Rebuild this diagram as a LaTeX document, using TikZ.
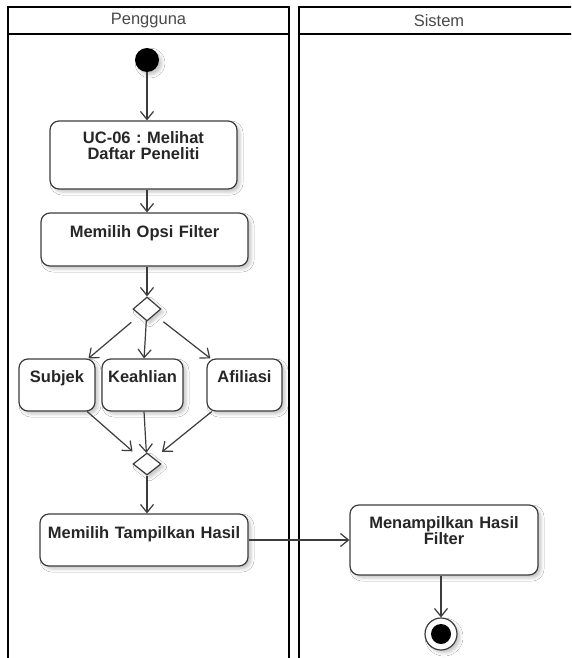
\documentclass[tikz,border=0pt]{standalone}
\usepackage{fontspec}
\setmainfont{Liberation Sans}
\usetikzlibrary{arrows.meta,shapes.geometric,shadows.blur}
\definecolor{ink}{HTML}{3C3C3C}
\definecolor{headtext}{HTML}{4A4A4A}
\definecolor{acttext}{HTML}{262626}
\frenchspacing

\begin{document}
\begin{tikzpicture}[x=1pt,y=-1pt,
  lane/.style={draw=black, line width=1.8pt},
  lanehead/.style={text=headtext, inner sep=0pt, font=\fontsize{16.5}{18}\selectfont},
  softshadow/.style={blur shadow={shadow xshift=3pt, shadow yshift=-3pt,
      shadow blur radius=3pt, shadow opacity=22}},
  act/.style={draw=ink, line width=1.2pt, rounded corners=9pt, fill=white,
      softshadow, inner xsep=0pt, inner ysep=0pt, align=center, text=acttext,
      font=\bfseries\fontsize{16.5}{16}\selectfont},
  merge/.style={shape=diamond, draw=ink, line width=1.2pt, fill=white,
      minimum width=28pt, minimum height=24pt, inner sep=0pt, softshadow},
  initial/.style={circle, fill=black, minimum size=24pt, inner sep=0pt, softshadow},
  final/.style={circle, draw=ink, line width=1.2pt, fill=white, minimum size=32pt,
      inner sep=0pt, softshadow,
      path picture={\fill[black] (path picture bounding box.center) circle (10pt);}},
  flow/.style={draw=ink, line width=1.2pt,
      -{Straight Barb[length=8pt,width=13pt,line width=1.2pt]}}
]
\useasboundingbox (0,0) rectangle (571,658);
\clip (0,0) rectangle (571,658);
\fill[white] (0,0) rectangle (571,658);

% swimlanes
\draw[lane] (8,700) -- (8,7) -- (289,7) -- (289,700);
\draw[lane] (8,34) -- (289,34);
\draw[lane] (299,700) -- (299,7) -- (620,7);
\draw[lane] (299,34) -- (620,34);
\node[lanehead] (hpengguna) at (148.5,21) {Pengguna};
\node[lanehead] (hsistem) at (439,21) {Sistem};

% activity nodes
\node[initial] (start) at (147,60) {};
\node[act, text width=187pt, text height=22pt, text depth=46pt] (uc06) at (143.5,155)
  {UC-06 : Melihat\\Daftar Peneliti};
\node[act, text width=207pt, text height=24pt, text depth=29pt] (opsi) at (144.5,239.5)
  {Memilih Opsi Filter};
\node[merge] (d1) at (147,309) {};
\node[act, text width=76pt, text height=23pt, text depth=29pt] (subjek) at (57,385) {Subjek};
\node[act, text width=81pt, text height=23pt, text depth=29pt] (keahlian) at (142.5,385) {Keahlian};
\node[act, text width=75pt, text height=23pt, text depth=29pt] (afiliasi) at (244.5,385) {Afiliasi};
\node[merge, minimum height=22pt] (d2) at (147,464) {};
\node[act, text width=208pt, text height=24pt, text depth=28pt] (tampil) at (144,540)
  {Memilih Tampilkan Hasil};
\node[act, text width=188pt, text height=23pt, text depth=47pt] (menampil) at (444,540)
  {Menampilkan Hasil\\Filter};
\node[final] (end) at (441,634) {};

% control flow
\draw[flow] (start) -- (start |- uc06.north);
\draw[flow] (uc06.south -| start) -- (opsi.north -| start);
\draw[flow] (opsi.south -| d1) -- (d1);
\draw[flow, shorten <=11pt] (d1) -- (subjek);
\draw[flow] (d1) -- (keahlian);
\draw[flow, shorten <=11pt] (d1) -- (afiliasi);
\draw[flow, shorten >=10pt] (subjek) -- (d2);
\draw[flow] (keahlian) -- (d2);
\draw[flow, shorten >=10pt] (afiliasi) -- (d2);
\draw[flow] (d2) -- (d2 |- tampil.north);
\draw[flow] (tampil) -- (menampil);
\draw[flow] (menampil.south -| end) -- (end);
\end{tikzpicture}
\end{document}
